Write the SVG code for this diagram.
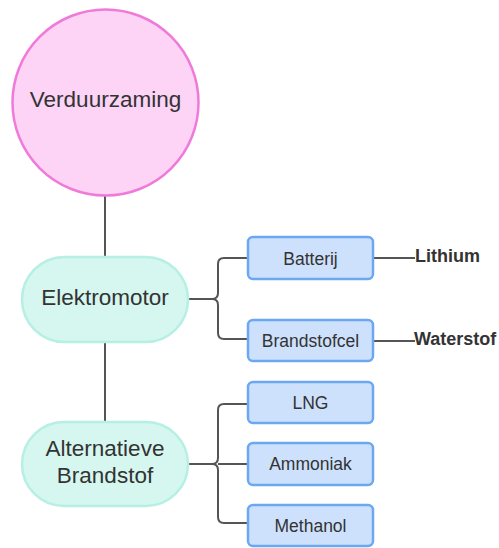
<svg xmlns="http://www.w3.org/2000/svg" width="499" height="548" viewBox="0 0 499 548">
<style>
text{font-family:"Liberation Sans",Arial,sans-serif;fill:#333;text-anchor:middle;dominant-baseline:central}
.pill{fill:#d6f7f0;stroke:#b6efe3;stroke-width:2.5}
.box{fill:#cde1fc;stroke:#6ba7f2;stroke-width:2.5}
.big{font-size:22.5px}
.sm{font-size:17.5px}
.bold{font-size:18px;font-weight:bold;text-anchor:start}
.ln{fill:none;stroke:#555;stroke-width:2}
</style>
<rect width="499" height="548" fill="#fff"/>
<g id="connectors">
<path class="ln" d="M105 196 V257"/>
<path class="ln" d="M105 342 V422"/>
<path class="ln" d="M248 258 H224 Q218 258 218 264 V293 Q218 299 212 299 H188"/>
<path class="ln" d="M248 339 H224 Q218 339 218 333 V305 Q218 299 212 299"/>
<path class="ln" d="M248 404 H224 Q218 404 218 410 V458 Q218 464 212 464 H188"/>
<path class="ln" d="M248 464 H218"/>
<path class="ln" d="M248 523 H224 Q218 523 218 517 V470 Q218 464 212 464"/>
<path class="ln" d="M373 258 H415"/>
<path class="ln" d="M373 341 H415"/>
</g>
<g id="verduurzaming">
<circle cx="105.5" cy="102.5" r="93" fill="#fdd3f6" stroke="#f07ad9" stroke-width="2.5"/>
<text class="big" x="105.5" y="99">Verduurzaming</text>
</g>
<g id="elektromotor">
<rect class="pill" x="22" y="257" width="166" height="85" rx="42.5"/>
<text class="big" x="105" y="297">Elektromotor</text>
</g>
<g id="alternatieve">
<rect class="pill" x="22" y="422" width="166" height="84" rx="42"/>
<text class="big" x="105" y="448">Alternatieve</text>
<text class="big" x="105" y="475">Brandstof</text>
</g>
<g id="batterij">
<rect class="box" x="248" y="237" width="125" height="42" rx="5"/>
<text class="sm" x="310.5" y="259">Batterij</text>
</g>
<g id="brandstofcel">
<rect class="box" x="248" y="320" width="125" height="41" rx="5"/>
<text class="sm" x="310.5" y="341">Brandstofcel</text>
</g>
<g id="lng">
<rect class="box" x="248" y="382" width="125" height="41" rx="5"/>
<text class="sm" x="310.5" y="403">LNG</text>
</g>
<g id="ammoniak">
<rect class="box" x="248" y="443" width="125" height="42" rx="5"/>
<text class="sm" x="310.5" y="464">Ammoniak</text>
</g>
<g id="methanol">
<rect class="box" x="248" y="505" width="125" height="41" rx="5"/>
<text class="sm" x="310.5" y="526">Methanol</text>
</g>
<g id="lithium">
<text class="bold" x="415" y="256">Lithium</text>
</g>
<g id="waterstof">
<text class="bold" x="414" y="339">Waterstof</text>
</g>
</svg>
